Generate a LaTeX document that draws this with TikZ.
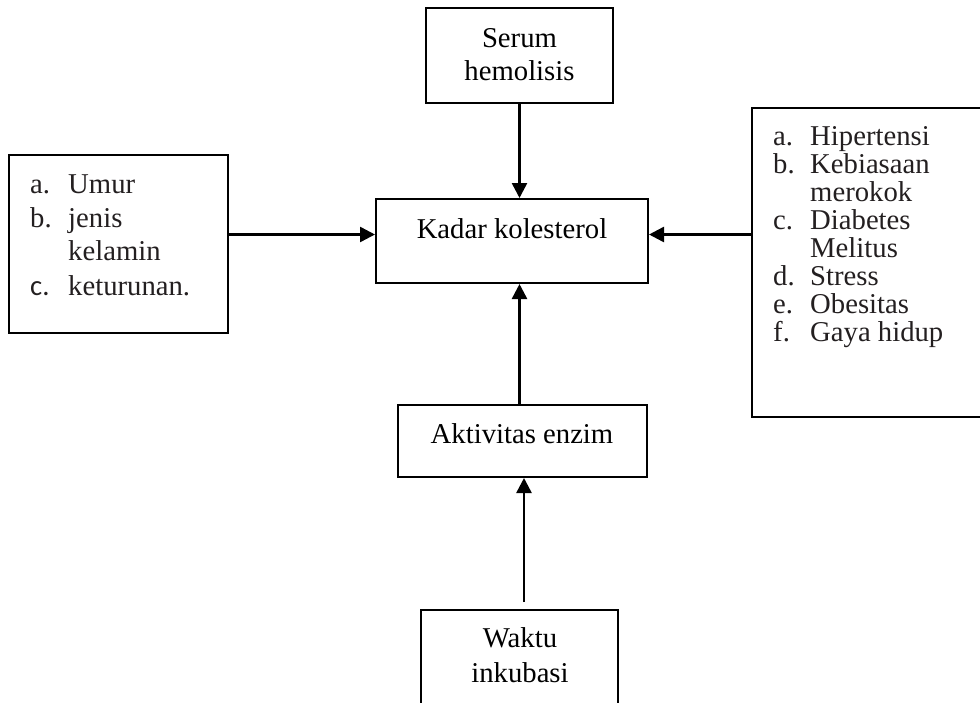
\documentclass[tikz,border=0pt]{standalone}
\usepackage{fontspec}
\setmainfont{Liberation Serif}
\newfontfamily\calib{Carlito}
\usetikzlibrary{arrows.meta,positioning}
\definecolor{Ink}{HTML}{000000}
\definecolor{ListInk}{HTML}{231F20}

\begin{document}
\begin{tikzpicture}[x=1pt,y=-1pt,
  box/.style={draw=Ink,line width=2pt,rectangle,inner sep=0pt},
  item/.style={inner sep=0pt,font=\fontsize{28.7}{34}\selectfont,text=ListInk},
  lbl/.style={inner sep=0pt,font=\fontsize{28.7}{34}\selectfont,text=Ink,anchor=base},
  arr/.style={draw=Ink,line width=2.5pt,-{Triangle[length=15pt,width=15pt]}}]
  \useasboundingbox (0,0) rectangle (980,702);
  % boxes
  \node[box,minimum width=187,minimum height=95] (serum) at (519.5,55.5) {};
  \node[box,minimum width=272,minimum height=84] (kadar) at (512,241) {};
  \node[box,minimum width=219,minimum height=178] (lbox) at (118.5,244) {};
  \node[box,minimum width=260,minimum height=309] (rbox) at (882,262.5) {};
  \node[box,minimum width=249,minimum height=72] (akt) at (522.5,441) {};
  \node[box,minimum width=197,minimum height=130] (waktu) at (519.5,675) {};
  % texts
  \node[lbl] (serumA) at (519.5,47) {Serum};
  \node[lbl] (serumB) at (519.5,80) {hemolisis};
  \node[lbl] (kadarT) at (512,238) {Kadar kolesterol};
  \node[lbl] (aktT) at (522,443) {Aktivitas enzim};
  \node[lbl] (waktuA) at (520,647) {Waktu};
  \node[lbl] (waktuB) at (520,682) {inkubasi};
  \foreach \y/\lab/\txt [count=\i] in {193/a./Umur,227/b./jenis,260//kelamin,295/{\calib c.}/keturunan.} {
    \node[item,anchor=base west] (llab\i) at (30,\y) {\lab};
    \node[item,anchor=base west] (ltxt\i) at (68,\y) {\txt};
  }
  \foreach \y/\lab/\txt [count=\i] in {145/a./Hipertensi,173/b./Kebiasaan,201//merokok,229/c./Diabetes,
    257//Melitus,285/d./Stress,313/e./Obesitas,341/f./Gaya hidup} {
    \node[item,anchor=base west] (rlab\i) at (773,\y) {\lab};
    \node[item,anchor=base west] (rtxt\i) at (810,\y) {\txt};
  }
  % connectors
  \coordinate (midrow) at (512,234.5);
  \coordinate (wtop) at (524,602);
  \draw[arr] (serum.south) -- (serum.south |- kadar.north);
  \draw[arr] (lbox.east |- midrow) -- (kadar.west |- midrow);
  \draw[arr] (rbox.west |- midrow) -- (kadar.east |- midrow);
  \draw[arr] (akt.north -| serum) -- (kadar.south -| serum);
  \draw[arr] (wtop) -- (wtop |- akt.south);
\end{tikzpicture}
\end{document}
